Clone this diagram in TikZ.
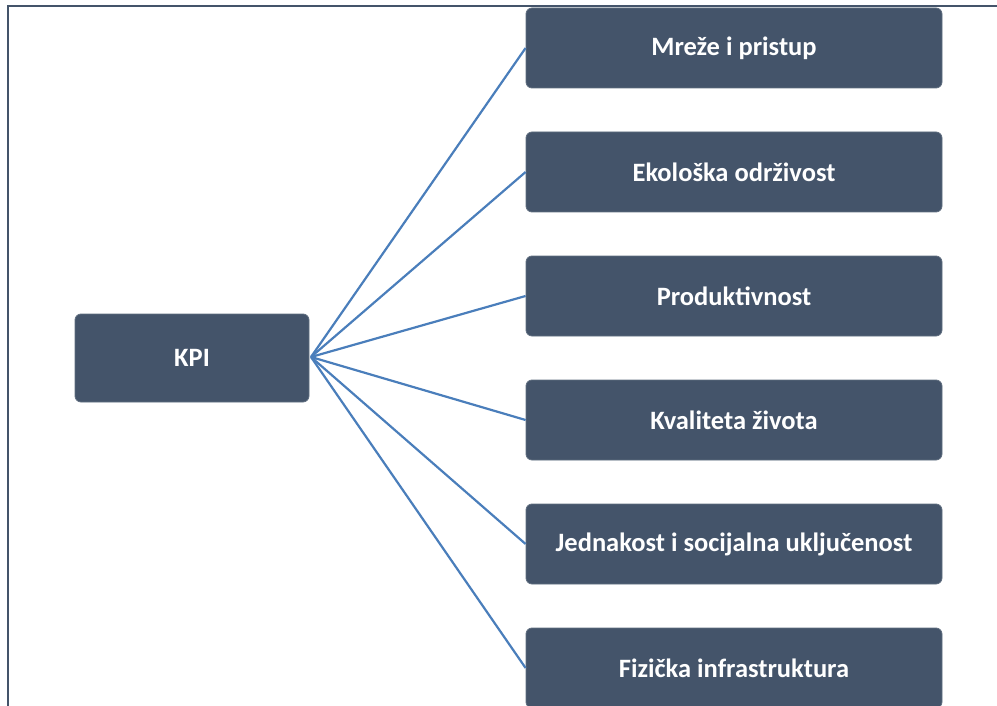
\documentclass[tikz,border=0pt]{standalone}
\usepackage{fontspec}
\setmainfont{Carlito}
\usetikzlibrary{positioning}
\definecolor{boxfill}{HTML}{44546A}
\definecolor{linkblue}{HTML}{4A7EBB}
\tikzset{
  kpibox/.style = {draw = boxfill!85!white, line width = 0.8pt, fill = boxfill, rounded corners = 6pt,
    text = white, font = \fontsize{26.5}{30}\selectfont\bfseries, align = center, inner sep = 0pt},
  link/.style = {draw = linkblue, line width = 2.2pt}
}

\begin{document}
\begin{tikzpicture} [x = 1pt, y = -1pt]
\useasboundingbox (0, 0) rectangle (997, 706);
\draw[boxfill, line width = 2.2pt] (8, 706) -- (8, 6) -- (997, 6);
\node[kpibox, minimum width = 234pt, minimum height = 88pt] (kpi) at (192, 358){KPI};
\node[kpibox, minimum width = 416pt, minimum height = 80pt] (mreze) at (734, 48){Mreže i pristup};
\node[kpibox, minimum width = 416pt, minimum height = 80pt] (eko) at (734, 172){Ekološka održivost};
\node[kpibox, minimum width = 416pt, minimum height = 80pt] (prod) at (734, 296){Produktivnost};
\node[kpibox, minimum width = 416pt, minimum height = 80pt] (kval) at (734, 420){Kvaliteta života};
\node[kpibox, minimum width = 416pt, minimum height = 80pt] (jedn) at (734, 544){Jednakost i socijalna uključenost};
\node[kpibox, minimum width = 416pt, minimum height = 80pt] (fiz) at (734, 668){Fizička infrastruktura};
\coordinate (hub) at (311, 357);
\draw[link] (hub) -- (mreze.west);
\draw[link] (hub) -- (eko.west);
\draw[link] (hub) -- (prod.west);
\draw[link] (hub) -- (kval.west);
\draw[link] (hub) -- (jedn.west);
\draw[link] (hub) -- (fiz.west);
\end{tikzpicture}
\end{document}
